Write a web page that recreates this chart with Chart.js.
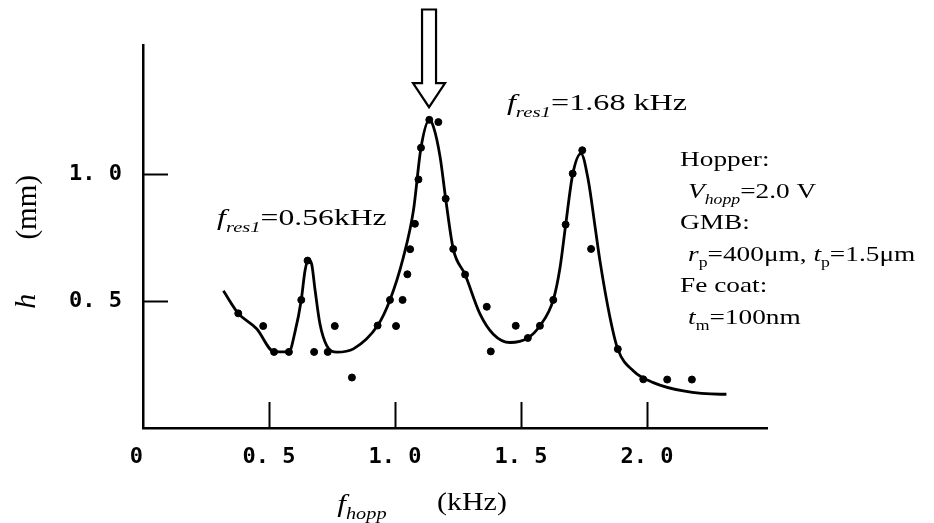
<!DOCTYPE html>
<html><head><meta charset="utf-8">
<script src="https://cdn.jsdelivr.net/npm/chart.js@4.4.1/dist/chart.umd.min.js"></script>
<style>html,body{margin:0;padding:0;background:#fff;}#wrap{width:934px;height:523px;position:relative;}</style>
</head><body><div id="wrap"><canvas id="c"></canvas></div>
<script>
// measured points: hopping frequency (kHz) and height h (mm)
const pointFreq = [0.378,0.477,0.520,0.579,0.628,0.653,0.679,0.733,0.761,0.829,0.931,0.980,1.004,1.030,1.049,1.060,1.079,1.093,1.103,1.136,1.172,1.201,1.231,1.278,1.364,1.380,1.479,1.527,1.575,1.628,1.677,1.705,1.743,1.778,1.884,1.985,2.080,2.178];
const pointHeight = [0.452,0.402,0.300,0.300,0.505,0.660,0.300,0.300,0.402,0.199,0.404,0.505,0.402,0.505,0.606,0.705,0.805,0.980,1.105,1.215,1.206,0.904,0.706,0.605,0.478,0.302,0.403,0.355,0.403,0.505,0.802,1.003,1.095,0.706,0.311,0.192,0.191,0.191];
// fitted curve
const curveFreq = [0.319,0.378,0.451,0.520,0.579,0.603,0.628,0.643,0.656,0.669,0.683,0.702,0.729,0.769,0.835,0.931,0.980,1.033,1.073,1.103,1.136,1.152,1.179,1.201,1.231,1.278,1.337,1.390,1.456,1.527,1.575,1.628,1.655,1.677,1.705,1.738,1.767,1.794,1.813,1.853,1.884,1.946,2.025,2.144,2.290,2.315];
const curveHeight = [0.541,0.452,0.391,0.301,0.300,0.378,0.505,0.621,0.663,0.647,0.542,0.411,0.325,0.299,0.312,0.404,0.505,0.673,0.857,1.105,1.214,1.189,1.068,0.904,0.706,0.605,0.450,0.370,0.337,0.355,0.403,0.505,0.634,0.800,1.000,1.082,0.976,0.792,0.660,0.436,0.311,0.225,0.179,0.146,0.133,0.133];
const xTickValues = [0, 0.5, 1.0, 1.5, 2.0];
const xTickLabels = ['0 ', '0. 5', '1. 0', '1. 5', '2. 0'];
const yTickValues = [0.5, 1.0];
const yTickLabels = ['0. 5', '1. 0'];

const SERIF = '"Liberation Serif","Times New Roman",serif';
const MONO = '"DejaVu Sans Mono",monospace';

// annotation layout (data coordinates)
const arrowSpec = {x: 1.135, tip: 1.265, headBase: 1.36, top: 1.65, shaftHalf: 7, headHalf: 16};
const noteSpecs = [
  {x: 0.294, y: 0.799, size: 24, sx: 1.32, segs: [{t:'f',it:1},{t:'res1',it:1,sub:1},{t:'=0.56kHz'}]},
  {x: 1.444, y: 1.252, size: 24, sx: 1.34, segs: [{t:'f',it:1},{t:'res1',it:1,sub:1},{t:'=1.68 kHz'}]}
];
const infoSpec = {x: 2.131, y: 1.031, step: 31.5, size: 21, sx: 1.3, lines: [
  {dx:0, segs:[{t:'Hopper:'}]},
  {dx:8, segs:[{t:'V',it:1},{t:'hopp',it:1,sub:1},{t:'=2.0 V'}]},
  {dx:0, segs:[{t:'GMB:'}]},
  {dx:8, segs:[{t:'r',it:1},{t:'p',sub:1},{t:'=400μm, '},{t:'t',it:1},{t:'p',sub:1},{t:'=1.5μm'}]},
  {dx:0, segs:[{t:'Fe coat:'}]},
  {dx:8, segs:[{t:'t',it:1},{t:'m',sub:1},{t:'=100nm'}]}
]};

function drawRich(ctx, segs, x, y, size, sx) {
  ctx.save();
  ctx.translate(x, y);
  ctx.scale(sx, 1);
  ctx.textBaseline = 'alphabetic';
  ctx.textAlign = 'left';
  ctx.fillStyle = '#000';
  let cx = 0;
  segs.forEach(s => {
    const fs = s.sub ? size * 0.65 : size;
    ctx.font = (s.it ? 'italic ' : '') + fs + 'px ' + SERIF;
    ctx.fillText(s.t, cx, s.sub ? size * 0.28 : 0);
    cx += ctx.measureText(s.t).width;
  });
  ctx.restore();
}

const decor = {
  id: 'decor',
  afterDraw(chart) {
    const {ctx, chartArea: ca, scales: {x, y}} = chart;
    ctx.save();
    ctx.strokeStyle = '#000';
    ctx.lineWidth = 2;
    // inward tick marks
    xTickValues.forEach(v => {
      if (v === 0) return;
      const px = Math.round(x.getPixelForValue(v)) + 0.5;
      ctx.beginPath(); ctx.moveTo(px, ca.bottom); ctx.lineTo(px, ca.bottom - 26); ctx.stroke();
    });
    yTickValues.forEach(v => {
      const py = Math.round(y.getPixelForValue(v)) + 0.5;
      ctx.beginPath(); ctx.moveTo(ca.left, py); ctx.lineTo(ca.left + 25, py); ctx.stroke();
    });
    // hollow arrow
    const ax = x.getPixelForValue(arrowSpec.x);
    const tip = y.getPixelForValue(arrowSpec.tip);
    const hb = y.getPixelForValue(arrowSpec.headBase);
    const top = y.getPixelForValue(arrowSpec.top);
    ctx.lineWidth = 2.2;
    ctx.fillStyle = '#fff';
    ctx.beginPath();
    ctx.moveTo(ax - arrowSpec.shaftHalf, top);
    ctx.lineTo(ax + arrowSpec.shaftHalf, top);
    ctx.lineTo(ax + arrowSpec.shaftHalf, hb);
    ctx.lineTo(ax + arrowSpec.headHalf, hb);
    ctx.lineTo(ax, tip);
    ctx.lineTo(ax - arrowSpec.headHalf, hb);
    ctx.lineTo(ax - arrowSpec.shaftHalf, hb);
    ctx.closePath();
    ctx.fill(); ctx.stroke();
    // notes
    noteSpecs.forEach(n => drawRich(ctx, n.segs, x.getPixelForValue(n.x), y.getPixelForValue(n.y), n.size, n.sx));
    const ix = x.getPixelForValue(infoSpec.x), iy = y.getPixelForValue(infoSpec.y);
    infoSpec.lines.forEach((l, i) => drawRich(ctx, l.segs, ix + l.dx, iy + i * infoSpec.step, infoSpec.size, infoSpec.sx));
    // x axis title
    drawRich(ctx, [{t:'f',it:1},{t:'hopp',it:1,sub:1}], x.getPixelForValue(0.771), 512, 26, 1.2);
    drawRich(ctx, [{t:'(kHz)'}], x.getPixelForValue(1.167), 510, 26, 1.15);
    // y axis title (rotated)
    ctx.save();
    ctx.fillStyle = '#000';
    ctx.textAlign = 'center';
    ctx.textBaseline = 'middle';
    ctx.translate(27, y.getPixelForValue(0.5));
    ctx.rotate(-Math.PI / 2);
    ctx.font = 'italic 30px ' + SERIF;
    ctx.fillText('h', 0, 0);
    ctx.restore();
    ctx.save();
    ctx.fillStyle = '#000';
    ctx.textAlign = 'center';
    ctx.textBaseline = 'middle';
    ctx.translate(28, y.getPixelForValue(0.87));
    ctx.rotate(-Math.PI / 2);
    ctx.font = '29px ' + SERIF;
    ctx.fillText('(mm)', 0, 0);
    ctx.restore();
    ctx.restore();
  }
};

new Chart(document.getElementById('c'), {
  type: 'scatter',
  data: {
    datasets: [
      {
        label: 'measured',
        data: pointFreq.map((f, i) => ({x: f, y: pointHeight[i]})),
        backgroundColor: '#000', borderColor: '#000',
        pointRadius: 3.5, pointHoverRadius: 3.5, showLine: false
      },
      {
        label: 'fit',
        data: curveFreq.map((f, i) => ({x: f, y: curveHeight[i]})),
        borderColor: '#000', borderWidth: 2.8, pointRadius: 0, showLine: true,
        cubicInterpolationMode: 'monotone', fill: false
      }
    ]
  },
  options: {
    responsive: true, maintainAspectRatio: false, animation: false,
    layout: {padding: {left: 0, top: 45, right: 167, bottom: 0}},
    plugins: {legend: {display: false}, tooltip: {enabled: false}},
    scales: {
      x: {
        type: 'linear', min: 0, max: 2.476,
        afterBuildTicks: s => { s.ticks = xTickValues.map(v => ({value: v})); },
        afterFit: s => { s.height = 95; },
        ticks: {callback: v => xTickLabels[xTickValues.indexOf(v)], font: {family: MONO, size: 22, weight: 'bold'}, color: '#000', padding: 16, maxRotation: 0, autoSkip: false},
        grid: {display: false, drawTicks: false},
        border: {display: true, color: '#000', width: 2.5}
      },
      y: {
        type: 'linear', min: 0, max: 1.51,
        afterBuildTicks: s => { s.ticks = yTickValues.map(v => ({value: v})); },
        afterFit: s => { s.width = 143; },
        ticks: {callback: v => yTickLabels[yTickValues.indexOf(v)], font: {family: MONO, size: 22, weight: 'bold'}, color: '#000', padding: 21, autoSkip: false},
        grid: {display: false, drawTicks: false},
        border: {display: true, color: '#000', width: 2.5}
      }
    }
  },
  plugins: [decor]
});
</script></body></html>
